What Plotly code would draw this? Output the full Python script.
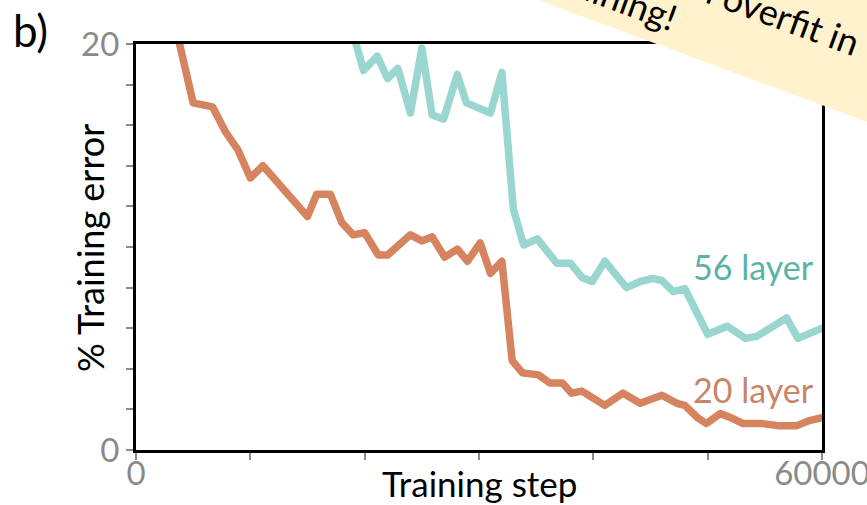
import plotly.graph_objects as go

# Training curves: % training error vs. training step
steps_20 = [3400, 5000, 6700, 7800, 8900, 10000, 11100, 12300, 13700, 15000,
            15800, 17000, 18000, 19000, 20000, 21200, 22000, 24000, 25000, 25900,
            27000, 28100, 29000, 30100, 31000, 32000, 32900, 33800, 35200, 36200,
            37300, 38100, 39000, 40000, 41000, 42600, 44100, 46000, 47300, 48000,
            49100, 49900, 51100, 52200, 53100, 54800, 56100, 57800, 58900, 60000]
error_20 = [21.0, 17.1, 16.9, 15.7, 14.8, 13.4, 14.0, 13.2, 12.4, 11.5,
            12.6, 12.6, 11.2, 10.6, 10.7, 9.6, 9.6, 10.6, 10.3, 10.5,
            9.5, 9.9, 9.3, 10.2, 8.7, 9.3, 4.4, 3.8, 3.7, 3.3,
            3.3, 2.8, 2.9, 2.6, 2.2, 2.8, 2.3, 2.7, 2.3, 2.2,
            1.6, 1.3, 1.8, 1.55, 1.3, 1.3, 1.2, 1.2, 1.45, 1.6]

steps_56 = [19000, 19900, 21100, 22000, 22900, 24000, 25000, 25900, 26900, 28100,
            28900, 31000, 32000, 33000, 33900, 35100, 36800, 38000, 39000, 39900,
            41000, 42900, 44100, 45200, 46000, 47000, 48000, 50000, 51700, 53300,
            54300, 56900, 57900, 60000]
error_56 = [20.5, 18.7, 19.4, 18.3, 18.8, 16.6, 19.8, 16.5, 16.3, 18.5,
            17.1, 16.6, 18.6, 11.9, 10.1, 10.4, 9.2, 9.2, 8.5, 8.3,
            9.3, 8.0, 8.3, 8.45, 8.35, 7.8, 7.95, 5.7, 6.1, 5.5,
            5.6, 6.5, 5.5, 6.0]

x_ticks = [0, 10000, 20000, 30000, 40000, 50000, 60000]
x_ticktext = ["0", "", "", "", "", "", "60000"]
y_ticks = [0, 2, 4, 6, 8, 10, 12, 14, 16, 18, 20]
y_ticktext = ["0", "", "", "", "", "", "", "", "", "", "20"]

RED = "#D5845F"
TEAL = "#9AD6D0"
FONT = "Lato"

fig = go.Figure()
fig.add_trace(go.Scatter(x=steps_56, y=error_56, mode="lines",
                         line=dict(color=TEAL, width=7.5), name="56 layer"))
fig.add_trace(go.Scatter(x=steps_20, y=error_20, mode="lines",
                         line=dict(color=RED, width=7.5), name="20 layer"))

axis_common = dict(showline=True, linecolor="black", linewidth=3, mirror=True,
                   showgrid=False, zeroline=False, ticks="outside",
                   tickcolor="#8a8a8a", tickwidth=2, ticklen=7, automargin=False,
                   ticklabeloverflow="allow",
                   tickfont=dict(family=FONT, size=33, color="#8a8a8a"))

fig.update_layout(
    width=867, height=505,
    margin=dict(l=136, r=45, t=44, b=55),
    paper_bgcolor="white", plot_bgcolor="white",
    showlegend=False,
    xaxis=dict(range=[0, 60000], tickvals=x_ticks, ticktext=x_ticktext,
               ticklabelstandoff=-15, **axis_common),
    yaxis=dict(range=[0, 20], tickvals=y_ticks, ticktext=y_ticktext, **axis_common),
)

# Sticky note in the top-right corner
fig.add_shape(type="path", xref="paper", yref="paper", layer="above",
              path="M 0.5015 1.1613 L 1.1137 0.7783 L 1.1137 1.2562 L 0.5015 1.2562 Z",
              fillcolor="#FFF2CC", line=dict(width=0))

ann = [
    dict(text="b)", x=-0.182, y=1.035, xanchor="left", yanchor="middle",
         font=dict(family=FONT, size=44, color="black")),
    dict(text="% Training error", x=-0.067, y=0.4975, textangle=-90,
         xanchor="center", yanchor="middle",
         font=dict(family=FONT, size=36, color="black")),
    dict(text="Training step", x=0.5, y=-0.0813, xanchor="center", yanchor="middle",
         font=dict(family=FONT, size=35, color="black")),
    dict(text="56 layer", x=0.991, y=0.4532, xanchor="right", yanchor="middle",
         font=dict(family=FONT, size=34, color="#5BB3A5")),
    dict(text="20 layer", x=0.991, y=0.1478, xanchor="right", yanchor="middle",
         font=dict(family=FONT, size=34, color="#C98467")),
    dict(text="Can't even overfit in", x=0.8353, y=1.1355, textangle=20,
         xanchor="center", yanchor="middle",
         font=dict(family=FONT, size=36, color="black")),
    dict(text="training!", x=0.697, y=1.1175, textangle=20,
         xanchor="center", yanchor="middle",
         font=dict(family=FONT, size=36, color="black")),
]
for a in ann:
    fig.add_annotation(xref="paper", yref="paper", showarrow=False, **a)

# Rounded joins for the curves
round_joins = ("document.querySelectorAll('.scatterlayer path.js-line')"
               ".forEach(function(p){p.style.strokeLinejoin='round';"
               "p.style.strokeLinecap='round';});")
fig.write_html("out.html", post_script=round_joins)
